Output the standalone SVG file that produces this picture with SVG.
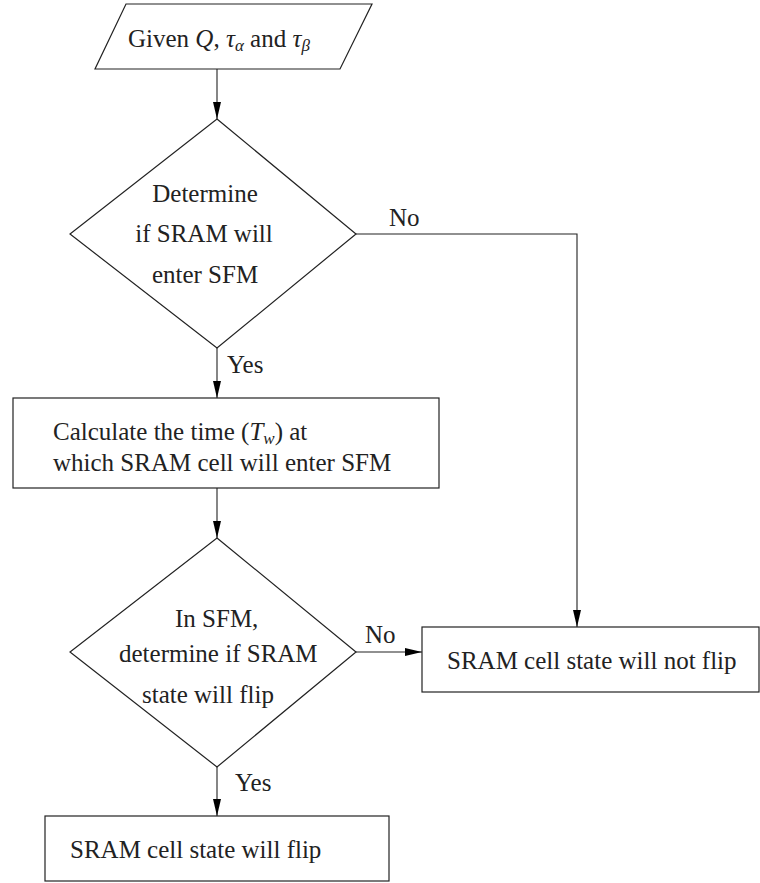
<svg xmlns="http://www.w3.org/2000/svg" width="760" height="883" viewBox="0 0 760 883">
<defs>
<marker id="arr" markerWidth="17" markerHeight="8" refX="17" refY="4" orient="auto" markerUnits="userSpaceOnUse">
<path d="M0,0 L17,4 L0,8 Z" fill="#000"/>
</marker>
</defs>
<style>
.shape{fill:#fff;stroke:#222;stroke-width:1.2}
.edge{fill:none;stroke:#222;stroke-width:1.1}
text{font-family:"Liberation Serif","Times New Roman",serif;font-size:25px;fill:#222}
.it{font-style:italic}
</style>
<rect width="760" height="883" fill="#fff"/>
<g id="connectors">
<line class="edge" x1="217" y1="69" x2="217" y2="119" marker-end="url(#arr)"/>
<line class="edge" x1="217" y1="348" x2="217" y2="398" marker-end="url(#arr)"/>
<line class="edge" x1="217" y1="488" x2="217" y2="538" marker-end="url(#arr)"/>
<line class="edge" x1="217" y1="767" x2="217" y2="816" marker-end="url(#arr)"/>
<polyline class="edge" points="356,234 577,234 577,627" marker-end="url(#arr)"/>
<line class="edge" x1="356" y1="652" x2="422" y2="652" marker-end="url(#arr)"/>
<text x="389" y="226">No</text>
<text x="227" y="373">Yes</text>
<text x="365" y="643">No</text>
<text x="235" y="791">Yes</text>
</g>
<g id="start">
<polygon class="shape" points="126,4 372,4 340,69 95,69"/>
<text x="128" y="47">Given <tspan class="it">Q</tspan>, <tspan class="it">τ</tspan><tspan class="it" font-size="17" dy="4">α</tspan><tspan dy="-4"> and </tspan><tspan class="it">τ</tspan><tspan class="it" font-size="17" dy="4">β</tspan></text>
</g>
<g id="decision1">
<polygon class="shape" points="217,119 356,234 217,348 70,234"/>
<text x="205" y="202" text-anchor="middle">Determine</text>
<text x="204" y="242" text-anchor="middle">if SRAM will</text>
<text x="205" y="283" text-anchor="middle">enter SFM</text>
</g>
<g id="calc">
<rect class="shape" x="13" y="398" width="426" height="90"/>
<text x="53" y="440">Calculate the time (<tspan class="it">T</tspan><tspan class="it" font-size="17" dy="4">w</tspan><tspan dy="-4">) at</tspan></text>
<text x="53" y="471">which SRAM cell will enter SFM</text>
</g>
<g id="decision2">
<polygon class="shape" points="217,538 356,652 217,767 70,652"/>
<text x="175" y="627">In SFM,</text>
<text x="119" y="662">determine if SRAM</text>
<text x="142" y="703">state will flip</text>
</g>
<g id="noflip">
<rect class="shape" x="422" y="627" width="337" height="65"/>
<text x="447" y="669">SRAM cell state will not flip</text>
</g>
<g id="flip">
<rect class="shape" x="45" y="816" width="344" height="65"/>
<text x="70" y="858">SRAM cell state will flip</text>
</g>
</svg>
